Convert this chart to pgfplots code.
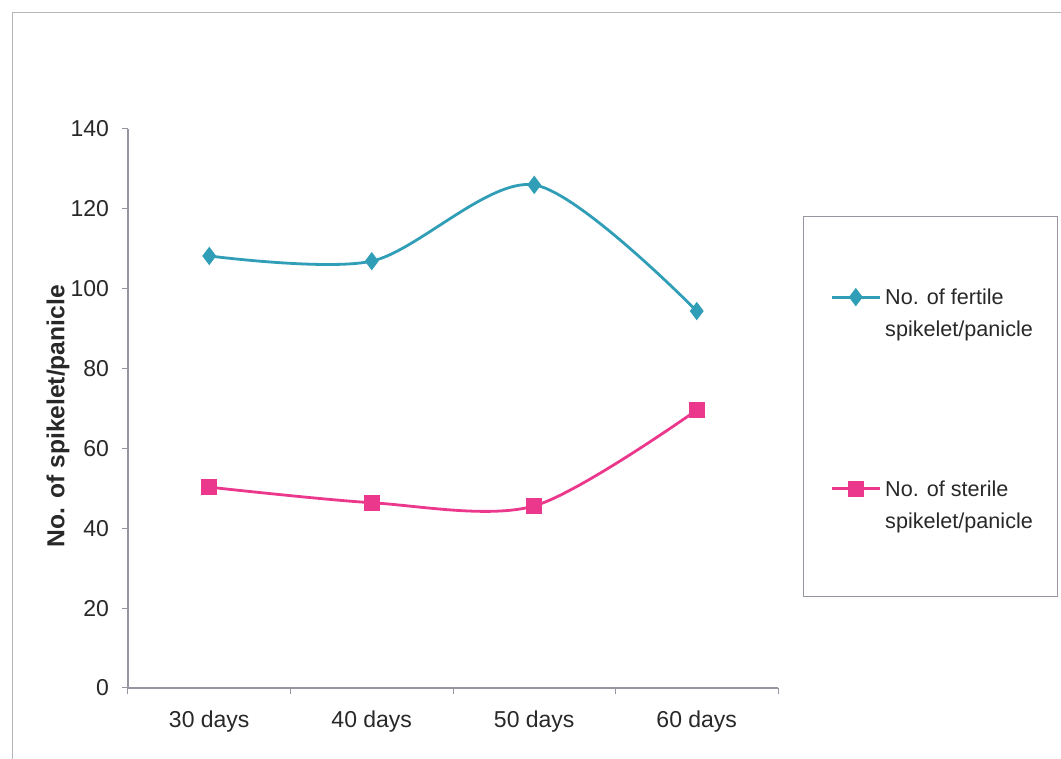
\documentclass[border=0pt]{standalone}
\usepackage{pgfplots}
\pgfplotsset{compat=1.18}
\usepackage{fontspec}
\setmainfont{Liberation Sans}
\definecolor{fert}{RGB}{48,158,182}
\definecolor{ster}{RGB}{236,56,140}
\definecolor{txt}{RGB}{40,40,40}
\definecolor{axl}{RGB}{150,150,160}
\pgfplotstableread{
x fert ster
0.5 108.2 50.3
1.5 106.9 46.4
2.5 126.0 45.6
3.5 94.4 69.6
}\datatab
\begin{document}
\begin{tikzpicture}
\useasboundingbox (0,0) rectangle (530.5pt,379.5pt);
\draw[axl!70,line width=0.5pt] (6pt,0) -- (6pt,373pt) -- (530.5pt,373pt);
\draw[axl,line width=0.5pt] (401.5pt,81pt) rectangle (528.5pt,271pt);
\begin{axis}[
  at={(64pt,35.5pt)}, anchor=south west,
  scale only axis, width=325pt, height=279.5pt,
  xmin=0, xmax=4, ymin=0, ymax=140,
  axis lines=left, axis line style={-, axl, line width=0.6pt},
  xtick={0.5,1.5,2.5,3.5},
  xticklabels={30 days,40 days,50 days,60 days},
  minor xtick={0,1,2,3,4},
  ytick={0,20,...,140},
  tick align=outside,
  major tick length=3pt, minor tick length=3pt,
  x tick style={draw=none},
  minor x tick style={draw=axl, line width=0.5pt},
  y tick style={axl, line width=0.5pt},
  tick label style={font=\fontsize{11.5}{13}\selectfont, text=txt},
  /pgf/number format/assume math mode=true,
  xticklabel style={yshift=-5pt},
  yticklabel style={xshift=-3pt},
  ylabel={\textbf{No. of spikelet/panicle}},
  ylabel style={font=\fontsize{12.3}{14}\selectfont, text=txt, at={(axis description cs:-0.079,0.486)}},
  legend style={draw=none, fill=none, inner sep=0pt,
    at={(axis description cs:1.08,0.722)}, anchor=north west,
    font=\fontsize{10.8}{16}\selectfont, text=txt,
    cells={anchor=west, align=left},
    row sep=66.5pt},
  legend cell align=left,
  legend image code/.code={
    \draw[mark repeat=2,mark phase=2] plot coordinates {(0pt,8.5pt)(12pt,8.5pt)(24pt,8.5pt)};
  },
]
\addplot[fert, line width=1.4pt, smooth, tension=0.5, mark=diamond*, mark size=4.2pt, mark options={fill=fert, draw=fert, line width=0.5pt}]
  table[x=x, y=fert] {\datatab};
\addlegendentry{No. of fertile\\spikelet/panicle}
\addplot[ster, line width=1.4pt, smooth, tension=0.5, mark=square*, mark size=3.7pt, mark options={fill=ster, draw=ster, line width=0.5pt}]
  table[x=x, y=ster] {\datatab};
\addlegendentry{No. of sterile\\spikelet/panicle}
\end{axis}
\end{tikzpicture}
\end{document}
